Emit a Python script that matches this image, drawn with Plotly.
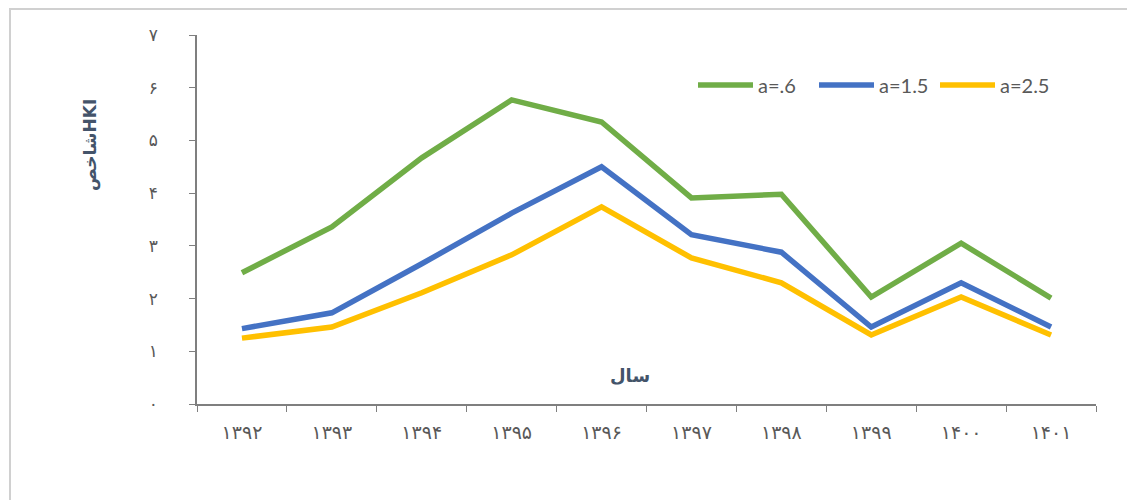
import plotly.graph_objects as go

years = ["۱۳۹۲", "۱۳۹۳", "۱۳۹۴", "۱۳۹۵", "۱۳۹۶", "۱۳۹۷", "۱۳۹۸", "۱۳۹۹", "۱۴۰۰", "۱۴۰۱"]
a06 = [2.49, 3.36, 4.67, 5.77, 5.35, 3.91, 3.98, 2.03, 3.05, 2.01]
a15 = [1.43, 1.73, 2.66, 3.62, 4.50, 3.21, 2.88, 1.46, 2.30, 1.46]
a25 = [1.25, 1.46, 2.11, 2.83, 3.74, 2.77, 2.30, 1.31, 2.03, 1.31]
series_names = ["a=.6", "a=1.5", "a=2.5"]
series_colors = ["#70AD47", "#4472C4", "#FFC000"]
y_tickvals = [0, 1, 2, 3, 4, 5, 6, 7]
y_ticktext = ["۰", "۱", "۲", "۳", "۴", "۵", "۶", "۷"]

fig = go.Figure()
for name, vals, col in zip(series_names, [a06, a15, a25], series_colors):
    fig.add_trace(go.Scatter(x=years, y=vals, mode="lines", name=name,
                             line=dict(color=col, width=5.5)))

axis_col = "#7F7F7F"
PW, PH = 899, 369  # plot area size in px
fig.update_layout(
    width=1135, height=500,
    margin=dict(l=189, r=47, t=27, b=104),
    paper_bgcolor="white", plot_bgcolor="white",
    showlegend=True,
    legend=dict(orientation="h", x=(693 - 197) / PW, y=(404 - 85) / PH,
                xanchor="left", yanchor="middle",
                font=dict(family="Lato, Open Sans, sans-serif", size=20, color="#595959"),
                itemwidth=55, entrywidth=51, bgcolor="rgba(0,0,0,0)"),
    xaxis=dict(type="category", range=[-0.5, 9.5], tickson="boundaries", ticks="outside",
               ticklen=6, tickcolor=axis_col, showline=True, linecolor=axis_col, linewidth=1.5,
               showgrid=False, zeroline=False,
               tickfont=dict(family="DejaVu Sans", size=19, color="#595959"),
               ticklabelstandoff=10),
    yaxis=dict(range=[0, 7], tickvals=y_tickvals, ticktext=y_ticktext, ticks="outside",
               ticklen=6, tickcolor=axis_col, showline=True, linecolor=axis_col, linewidth=1.5,
               showgrid=False, zeroline=False,
               tickfont=dict(family="DejaVu Sans", size=17, color="#595959"),
               ticklabelstandoff=28),
    annotations=[
        dict(text="<b>شاخصHKI</b>", xref="paper", yref="paper", x=(90 - 197) / PW,
             y=(404 - 145) / PH, textangle=-90, showarrow=False,
             xanchor="center", yanchor="middle",
             font=dict(family="DejaVu Sans", size=17, color="#44546A")),
        dict(text="<b>سال</b>", xref="paper", yref="paper", x=(630 - 197) / PW,
             y=(404 - 375) / PH, showarrow=False, xanchor="center", yanchor="middle",
             font=dict(family="DejaVu Sans", size=18, color="#44546A")),
    ],
    shapes=[
        dict(type="rect", xref="paper", yref="paper",
             x0=(10 - 197) / PW, x1=1.08, y0=-0.35, y1=(404 - 9) / PH,
             line=dict(color="#D0D0D0", width=2), fillcolor="rgba(0,0,0,0)", layer="below"),
    ],
)

fig.write_html("out.html")
